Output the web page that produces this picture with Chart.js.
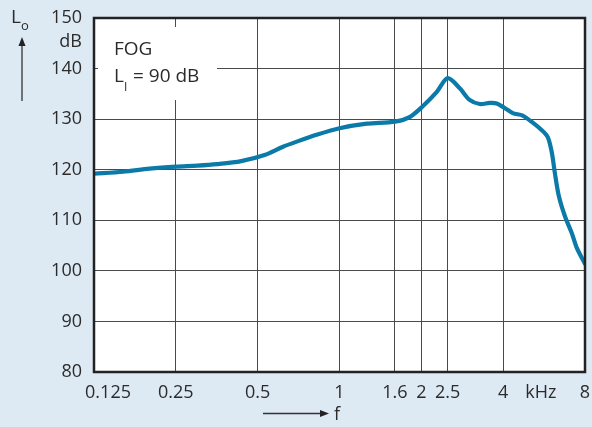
<!DOCTYPE html>
<html>
<head>
<meta charset="utf-8">
<script src="https://cdn.jsdelivr.net/npm/chart.js@4/dist/chart.umd.min.js"></script>
<style>
  html, body { margin: 0; padding: 0; background: #dde9f3; }
  canvas { display: block; }
</style>
</head>
<body>
<canvas id="myChart" width="592" height="427"></canvas>
<script>
// frequency in kHz, output level in dB
const freqs = [0.125, 0.16, 0.2, 0.25, 0.3, 0.355, 0.435, 0.53, 0.617, 0.7, 0.823,
  1, 1.26, 1.6, 1.81, 2.02, 2.28, 2.5, 2.77, 3.01, 3.28, 3.57, 3.79, 4.05, 4.34, 4.72,
  5.14, 5.55, 5.84, 6.04, 6.2, 6.41, 6.75, 7.16, 7.47, 8];
const levels = [119.2, 119.6, 120.2, 120.6, 120.8, 121.1, 121.7, 122.9, 124.5, 125.6, 126.9,
  128.2, 129.1, 129.5, 130.4, 132.5, 135.4, 138.1, 136.1, 133.8, 133.0, 133.2, 133.1, 132.2, 131.2, 130.7,
  129.3, 127.8, 126.4, 123.4, 119.3, 114.8, 110.8, 107.4, 104.5, 101.4];

const freqTicks = [0.125, 0.25, 0.5, 1, 1.6, 2, 2.5, 4, 5.5, 8];
const freqLabels = ['0.125', '0.25', '0.5', '1', '1.6', '2', '2.5', '4', 'kHz', '8'];
const levelTicks = [80, 90, 100, 110, 120, 130, 140, 150];

const FONT = '"Open Sans", "DejaVu Sans", sans-serif';
const TEXT = '#2b2b2b';
const LINE = '#0b7aa8';

const decorations = {
  id: 'decorations',
  beforeDraw(chart) {
    const { ctx, chartArea: a } = chart;
    ctx.save();
    ctx.fillStyle = '#ffffff';
    ctx.fillRect(a.left, a.top, a.right - a.left, a.bottom - a.top);
    ctx.restore();
  },
  beforeDatasetsDraw(chart) {
    const { ctx } = chart;
    ctx.save();
    // white label box covering the grid
    ctx.fillStyle = '#ffffff';
    ctx.fillRect(98, 27, 119, 73);
    ctx.fillStyle = TEXT;
    ctx.textBaseline = 'alphabetic';
    ctx.font = `19px ${FONT}`;
    ctx.fillText('FOG', 114, 55);
    ctx.fillText('L', 114, 82);
    ctx.fillText('= 90 dB', 133, 82);
    ctx.font = `12px ${FONT}`;
    ctx.fillText('I', 124, 91);
    ctx.restore();
  },
  afterDraw(chart) {
    const { ctx, chartArea: a } = chart;
    ctx.save();
    ctx.strokeStyle = '#222';
    ctx.lineWidth = 2.5;
    ctx.strokeRect(a.left, a.top, a.right - a.left, a.bottom - a.top);

    // y title
    ctx.fillStyle = TEXT;
    ctx.textBaseline = 'alphabetic';
    ctx.font = `19px ${FONT}`;
    ctx.fillText('L', 11, 23);
    ctx.font = `13px ${FONT}`;
    ctx.fillText('o', 21, 30);
    ctx.font = `18px ${FONT}`;
    ctx.textAlign = 'right';
    ctx.fillText('dB', 82, 47);
    ctx.textAlign = 'left';

    // arrows
    ctx.strokeStyle = '#333';
    ctx.fillStyle = '#222';
    ctx.lineWidth = 1.3;
    ctx.beginPath();
    ctx.moveTo(22, 101);
    ctx.lineTo(22, 44);
    ctx.stroke();
    ctx.beginPath();
    ctx.moveTo(22, 37);
    ctx.lineTo(18.5, 46);
    ctx.lineTo(25.5, 46);
    ctx.closePath();
    ctx.fill();

    ctx.beginPath();
    ctx.moveTo(263, 413.5);
    ctx.lineTo(321, 413.5);
    ctx.stroke();
    ctx.beginPath();
    ctx.moveTo(329, 413.5);
    ctx.lineTo(320, 410);
    ctx.lineTo(320, 417);
    ctx.closePath();
    ctx.fill();

    ctx.fillStyle = TEXT;
    ctx.font = `18px ${FONT}`;
    ctx.fillText('f', 334, 420);
    ctx.restore();
  },
};

const ctx = document.getElementById('myChart').getContext('2d');
new Chart(ctx, {
  type: 'line',
  data: {
    datasets: [{
      data: freqs.map((f, i) => ({ x: f, y: levels[i] })),
      borderColor: LINE,
      borderWidth: 4.2,
      pointRadius: 0,
      fill: false,
      tension: 0.3,
      borderCapStyle: 'round',
      borderJoinStyle: 'round',
    }],
  },
  options: {
    responsive: false,
    animation: false,
    layout: { padding: { left: 0, top: 18, right: 7, bottom: 0 } },
    plugins: {
      legend: { display: false },
      tooltip: { enabled: false },
    },
    scales: {
      x: {
        type: 'logarithmic',
        min: 0.125,
        max: 8,
        afterBuildTicks(scale) {
          scale.ticks = freqTicks.map((v) => ({ value: v }));
        },
        afterFit(scale) {
          scale.height = 55;
          scale.paddingLeft = 0;
          scale.paddingRight = 0;
        },
        grid: {
          drawTicks: false,
          lineWidth: 1,
          color: (c) => (c.tick && c.tick.value === 5.5 ? 'rgba(0,0,0,0)' : '#4a4a4a'),
        },
        border: { display: false },
        ticks: {
          autoSkip: false,
          maxRotation: 0,
          padding: 10,
          color: TEXT,
          font: { family: FONT, size: 18 },
          callback(value, index) {
            return index === 0 ? '      ' + freqLabels[index] : freqLabels[index];
          },
        },
      },
      y: {
        min: 80,
        max: 150,
        afterBuildTicks(scale) {
          scale.ticks = levelTicks.map((v) => ({ value: v }));
        },
        afterFit(scale) {
          scale.width = 94;
          scale.paddingTop = 0;
          scale.paddingBottom = 0;
        },
        grid: { drawTicks: false, lineWidth: 1, color: '#4a4a4a' },
        border: { display: false },
        ticks: {
          padding: 12,
          color: TEXT,
          font: { family: FONT, size: 18 },
        },
      },
    },
  },
  plugins: [decorations],
});
</script>
</body>
</html>
